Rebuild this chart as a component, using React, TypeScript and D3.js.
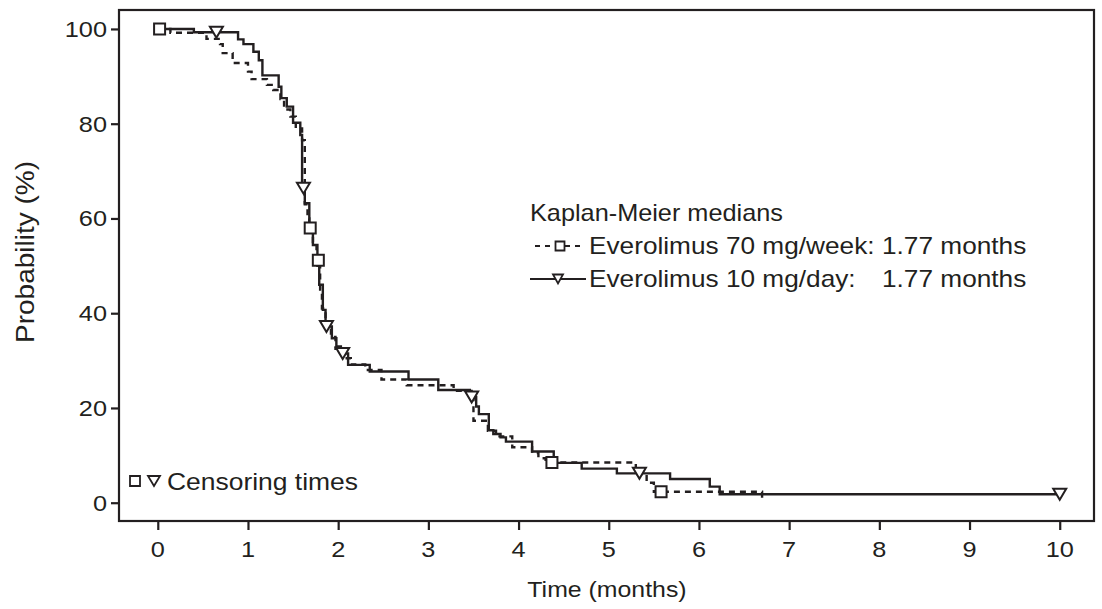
import { useEffect, useRef } from 'react';
import * as d3 from 'd3';

const W = 1102;
const H = 609;
const INK = '#231f20';
const FONT = '"Liberation Sans", Arial, sans-serif';

// Everolimus 70 mg/week (dashed, squares) - time in months, survival % after step
const weeklyTimes = [0, 0.14, 0.54, 0.69, 0.72, 0.83, 1.0, 1.04, 1.21, 1.28, 1.36, 1.4, 1.47, 1.53, 1.6, 1.63, 1.66, 1.68, 1.72, 1.76, 1.8, 1.82, 1.86, 1.92, 1.97, 2.06, 2.14, 2.3, 2.48, 2.76, 3.28, 3.5, 3.66, 3.75, 3.93, 4.15, 4.22, 4.3, 5.3, 5.42, 5.5, 6.7];
const weeklySurv = [100, 99.2, 97.9, 96.8, 94.9, 92.8, 91.0, 89.4, 88.2, 87.1, 85.2, 83.0, 81.5, 79.0, 76.5, 63.0, 60.0, 58.0, 55.0, 51.2, 45.0, 41.0, 37.0, 35.0, 32.5, 30.5, 29.2, 28.0, 26.0, 24.8, 23.6, 17.3, 15.2, 14.0, 11.7, 10.5, 9.4, 8.5, 6.0, 4.2, 2.3, 0];
const weeklyCensorTimes = [0.02, 1.69, 1.78, 4.37, 5.58];
const weeklyCensorSurv = [100, 58.0, 51.2, 8.5, 2.3];

// Everolimus 10 mg/day (solid, triangles)
const dailyTimes = [0, 0.4, 0.89, 0.95, 1.06, 1.12, 1.16, 1.34, 1.37, 1.43, 1.5, 1.58, 1.6, 1.63, 1.68, 1.72, 1.77, 1.79, 1.83, 1.86, 1.93, 1.98, 2.03, 2.11, 2.35, 2.78, 3.11, 3.46, 3.53, 3.56, 3.67, 3.72, 3.8, 3.86, 4.15, 4.39, 4.7, 5.09, 5.68, 6.12, 6.23, 10.0];
const dailySurv = [100, 99.3, 97.8, 96.8, 95.2, 93.4, 90.2, 87.8, 85.4, 83.6, 80.2, 77.6, 66.4, 63.2, 58.0, 54.4, 50.0, 46.0, 40.7, 37.2, 34.7, 33.0, 31.5, 29.1, 27.7, 26.0, 23.8, 22.3, 20.3, 18.7, 15.3, 14.5, 13.8, 12.9, 10.8, 8.4, 7.2, 6.2, 5.0, 3.4, 1.8, 1.8];
const dailyCensorTimes = [0.65, 1.615, 1.87, 2.05, 3.48, 5.34, 10.0];
const dailyCensorSurv = [99.3, 66.4, 37.2, 31.5, 22.3, 6.2, 1.8];

const xTicks = [0, 1, 2, 3, 4, 5, 6, 7, 8, 9, 10];
const yTicks = [0, 20, 40, 60, 80, 100];

const legendTitle = 'Kaplan-Meier medians';
const legendNames = ['Everolimus 70 mg/week:', 'Everolimus 10 mg/day:'];
const legendMedians = ['1.77 months', '1.77 months'];

const squarePath = (s) => `M${-s / 2},${-s / 2}h${s}v${s}h${-s}Z`;
const trianglePath = (w, h) => `M${-w / 2},${-h / 2}L${w / 2},${-h / 2}L0,${h / 2}Z`;

export default function App() {
  const svgRef = useRef(null);

  useEffect(() => {
    const svg = d3.select(svgRef.current);
    svg.selectAll('*').remove();

    const left = 119, right = 1094, top = 10, bottom = 521;

    const x = d3.scaleLinear().domain([-0.43, 10.38]).range([left, right]);
    const y = d3.scaleLinear().domain([-3.86, 104.0]).range([bottom, top]);

    // glyphs in the source are a little wider than Arial, so stretch x a bit
    const addText = (g, tx, ty, str, anchor, size, sx) =>
      g.append('text')
        .attr('transform', `translate(${tx},${ty}) scale(${sx},1)`)
        .attr('text-anchor', anchor)
        .attr('font-family', FONT)
        .attr('font-size', size)
        .attr('fill', INK)
        .text(str);

    svg.append('rect').attr('width', W).attr('height', H).attr('fill', 'white');

    // frame
    svg.append('rect')
      .attr('x', left).attr('y', top)
      .attr('width', right - left).attr('height', bottom - top)
      .attr('fill', 'none').attr('stroke', INK).attr('stroke-width', 2.2);

    // axes
    const xAxis = svg.append('g')
      .attr('transform', `translate(0,${bottom})`)
      .call(d3.axisBottom(x).tickValues(xTicks).tickSize(9));
    xAxis.select('.domain').remove();
    xAxis.selectAll('line').attr('stroke', INK).attr('stroke-width', 2.2);
    xAxis.selectAll('text').remove();
    xTicks.forEach(t => addText(svg, x(t), 557, String(t), 'middle', 22, 1.15));

    const yAxis = svg.append('g')
      .attr('transform', `translate(${left},0)`)
      .call(d3.axisLeft(y).tickValues(yTicks).tickSize(8));
    yAxis.select('.domain').remove();
    yAxis.selectAll('line').attr('stroke', INK).attr('stroke-width', 2.2);
    yAxis.selectAll('text').remove();
    yTicks.forEach(t => addText(svg, 107, y(t) + 8, String(t), 'end', 22, 1.15));

    // axis titles
    addText(svg, 607, 597, 'Time (months)', 'middle', 22, 1.13);
    svg.append('text')
      .attr('transform', 'translate(34,252) rotate(-90) scale(1.12,1)')
      .attr('text-anchor', 'middle')
      .attr('font-family', FONT)
      .attr('font-size', 25)
      .attr('fill', INK)
      .text('Probability (%)');

    const step = d3.line()
      .x(d => x(d[0]))
      .y(d => y(d[1]))
      .curve(d3.curveStepAfter);

    const weekly = weeklyTimes.map((t, i) => [t, weeklySurv[i]]);
    const daily = dailyTimes.map((t, i) => [t, dailySurv[i]]);

    svg.append('path')
      .datum(weekly)
      .attr('d', step)
      .attr('fill', 'none')
      .attr('stroke', INK)
      .attr('stroke-width', 2.4)
      .attr('stroke-dasharray', '6,5');

    svg.append('path')
      .datum(daily)
      .attr('d', step)
      .attr('fill', 'none')
      .attr('stroke', INK)
      .attr('stroke-width', 2.4);

    // censor marks
    weeklyCensorTimes.forEach((t, i) => {
      svg.append('path')
        .attr('transform', `translate(${x(t)},${y(weeklyCensorSurv[i])})`)
        .attr('d', squarePath(11))
        .attr('fill', 'white').attr('stroke', INK).attr('stroke-width', 2);
    });
    dailyCensorTimes.forEach((t, i) => {
      svg.append('path')
        .attr('transform', `translate(${x(t)},${y(dailyCensorSurv[i])})`)
        .attr('d', trianglePath(13, 11))
        .attr('fill', 'white').attr('stroke', INK).attr('stroke-width', 2);
    });

    // median legend
    const lg = svg.append('g');
    addText(lg, 530, 221, legendTitle, 'start', 23, 1.1);
    const rowY = [254, 287];
    legendNames.forEach((name, i) => {
      const cy = rowY[i] - 8;
      if (i === 0) {
        lg.append('line').attr('x1', 535).attr('x2', 585).attr('y1', cy).attr('y2', cy)
          .attr('stroke', INK).attr('stroke-width', 2.2).attr('stroke-dasharray', '5,5');
        lg.append('path').attr('transform', `translate(560,${cy})`).attr('d', squarePath(9))
          .attr('fill', 'white').attr('stroke', INK).attr('stroke-width', 1.8);
      } else {
        lg.append('line').attr('x1', 530).attr('x2', 586).attr('y1', cy).attr('y2', cy)
          .attr('stroke', INK).attr('stroke-width', 2.2);
        lg.append('path').attr('transform', `translate(558,${cy})`).attr('d', trianglePath(10, 9))
          .attr('fill', 'white').attr('stroke', INK).attr('stroke-width', 1.8);
      }
      addText(lg, 589, rowY[i], name, 'start', 23, 1.14);
      addText(lg, 882, rowY[i], legendMedians[i], 'start', 23, 1.14);
    });

    // censoring legend
    const cg = svg.append('g');
    cg.append('path').attr('transform', 'translate(135,481)').attr('d', squarePath(10))
      .attr('fill', 'white').attr('stroke', INK).attr('stroke-width', 1.8);
    cg.append('path').attr('transform', 'translate(154,481)').attr('d', trianglePath(12, 10))
      .attr('fill', 'white').attr('stroke', INK).attr('stroke-width', 1.8);
    addText(cg, 167, 490, 'Censoring times', 'start', 23, 1.15);
  }, []);

  return (
    <svg ref={svgRef} width={W} height={H}
      style={{ position: 'absolute', left: 0, top: 0, display: 'block' }} />
  );
}
